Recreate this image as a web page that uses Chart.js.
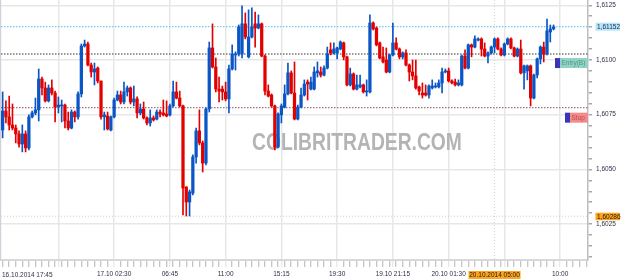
<!DOCTYPE html>
<html><head><meta charset="utf-8">
<script src="https://cdn.jsdelivr.net/npm/chart.js@4.4.1/dist/chart.umd.min.js"></script>
<style>html,body{margin:0;padding:0;background:#fff;overflow:hidden}#wrap{width:625px;height:280px;position:relative}</style>
</head><body><div id="wrap"><canvas id="c" width="625" height="280"></canvas></div>
<script>
// M15 candles (bar 0 = 16.10.2014 17:45)
const opens = [
1.60680,1.60767,1.60740,1.60703,1.60689,1.60662,1.60616,1.60662,1.60598,1.60740,
1.60758,1.60772,1.60913,1.60872,1.60813,1.60872,1.60849,1.60785,1.60790,1.60794,
1.60721,1.60689,1.60762,1.60740,1.60845,1.61064,1.61073,1.60977,1.60945,1.60963,
1.60904,1.60740,1.60744,1.60680,1.60740,1.60817,1.60840,1.60808,1.60854,1.60872,
1.60808,1.60822,1.60758,1.60776,1.60735,1.60712,1.60735,1.60730,1.60762,1.60758,
1.60753,1.60749,1.60790,1.60854,1.60826,1.60790,1.60420,1.60351,1.60392,1.60557,
1.60676,1.60621,1.60529,1.60776,1.61055,1.60968,1.60867,1.60867,1.60854,1.60822,
1.60959,1.61023,1.61027,1.61027,1.61165,1.61014,1.61105,1.61165,1.61146,1.61165,
1.61018,1.60858,1.60840,1.60790,1.60602,1.60749,1.60785,1.60845,1.60941,1.60849,
1.60730,1.60785,1.60840,1.60899,1.60867,1.60867,1.60941,1.60945,1.60931,1.60963,
1.61046,1.61032,1.61032,1.61050,1.61078,1.61014,1.60886,1.60936,1.60867,1.60877,
1.60886,1.60854,1.60854,1.61169,1.61146,1.61078,1.61014,1.61000,1.60945,1.61023,
1.61078,1.61050,1.61014,1.61032,1.60977,1.60945,1.60927,1.60877,1.60849,1.60849,
1.60840,1.60872,1.60877,1.60877,1.60895,1.60945,1.60950,1.60904,1.60899,1.60886,
1.60886,1.61018,1.60963,1.61069,1.61059,1.61091,1.61096,1.61050,1.61018,1.61032,
1.61059,1.61096,1.61050,1.61023,1.61073,1.61096,1.61055,1.61018,1.61050,1.60941,
1.60950,1.60973,1.60826,1.60931,1.61005,1.61059,1.61027,1.61128,1.61142];
const highs = [
1.60854,1.60813,1.60835,1.60799,1.60703,1.60676,1.60703,1.60676,1.60749,1.60767,
1.60826,1.60959,1.60922,1.60899,1.60886,1.60909,1.60858,1.60831,1.60817,1.60799,
1.60762,1.60772,1.60767,1.60854,1.61073,1.61091,1.61082,1.60986,1.60986,1.60968,
1.60904,1.60762,1.60762,1.60744,1.60826,1.60858,1.60858,1.60899,1.60881,1.60877,
1.60881,1.60831,1.60799,1.60808,1.60740,1.60772,1.60744,1.60772,1.60772,1.60817,
1.60813,1.60799,1.60904,1.60899,1.60858,1.60794,1.60420,1.60406,1.60566,1.60689,
1.60772,1.60630,1.60781,1.61082,1.61165,1.61009,1.60922,1.60881,1.60899,1.60977,
1.61069,1.61037,1.61160,1.61247,1.61215,1.61229,1.61238,1.61219,1.61206,1.61169,
1.61023,1.60886,1.60845,1.60794,1.60758,1.60799,1.60886,1.60986,1.60950,1.60991,
1.60794,1.60872,1.60909,1.60909,1.60922,1.60968,1.60991,1.60968,1.60973,1.61059,
1.61078,1.61078,1.61059,1.61087,1.61082,1.61018,1.60963,1.60941,1.60931,1.60931,
1.60890,1.60909,1.61206,1.61174,1.61151,1.61082,1.61059,1.61055,1.61027,1.61169,
1.61101,1.61055,1.61037,1.61046,1.60982,1.61000,1.61000,1.60881,1.60895,1.60886,
1.60886,1.60909,1.60895,1.60909,1.60963,1.60959,1.60963,1.60909,1.60913,1.60909,
1.61023,1.61046,1.61073,1.61073,1.61110,1.61101,1.61101,1.61078,1.61037,1.61064,
1.61101,1.61101,1.61055,1.61078,1.61101,1.61101,1.61059,1.61055,1.61091,1.60977,
1.60977,1.60977,1.60936,1.61009,1.61064,1.61082,1.61187,1.61160,1.61160];
const lows = [
1.60644,1.60712,1.60680,1.60680,1.60621,1.60602,1.60580,1.60580,1.60589,1.60735,
1.60749,1.60721,1.60840,1.60808,1.60808,1.60840,1.60717,1.60758,1.60717,1.60689,
1.60680,1.60685,1.60717,1.60730,1.60831,1.61059,1.60973,1.60922,1.60886,1.60895,
1.60730,1.60680,1.60680,1.60676,1.60735,1.60813,1.60799,1.60799,1.60835,1.60799,
1.60790,1.60735,1.60749,1.60730,1.60703,1.60698,1.60721,1.60726,1.60740,1.60744,
1.60740,1.60744,1.60785,1.60822,1.60785,1.60292,1.60287,1.60287,1.60383,1.60529,
1.60612,1.60488,1.60520,1.60762,1.60963,1.60854,1.60808,1.60817,1.60813,1.60758,
1.60954,1.60954,1.61018,1.61009,1.61096,1.61009,1.61101,1.61059,1.61142,1.61014,
1.60840,1.60831,1.60785,1.60589,1.60598,1.60712,1.60781,1.60840,1.60845,1.60726,
1.60726,1.60781,1.60835,1.60817,1.60863,1.60863,1.60922,1.60922,1.60927,1.60959,
1.61023,1.61027,1.61005,1.61046,1.61000,1.60881,1.60881,1.60863,1.60863,1.60872,
1.60849,1.60835,1.60849,1.61137,1.61064,1.61005,1.60986,1.60941,1.60941,1.61018,
1.61046,1.61005,1.61005,1.60973,1.60904,1.60909,1.60867,1.60840,1.60826,1.60835,
1.60826,1.60867,1.60872,1.60872,1.60849,1.60941,1.60899,1.60890,1.60881,1.60881,
1.60881,1.60959,1.60959,1.61014,1.61055,1.61087,1.61018,1.61014,1.60986,1.61027,
1.61032,1.61046,1.61018,1.61018,1.61069,1.61050,1.61014,1.61014,1.60936,1.60867,
1.60909,1.60790,1.60822,1.60918,1.60982,1.60991,1.61023,1.61082,1.61137];
const closes = [
1.60767,1.60740,1.60703,1.60689,1.60662,1.60616,1.60662,1.60598,1.60740,1.60758,
1.60772,1.60913,1.60872,1.60813,1.60872,1.60849,1.60785,1.60794,1.60794,1.60721,
1.60689,1.60762,1.60740,1.60845,1.61064,1.61073,1.60977,1.60945,1.60959,1.60904,
1.60740,1.60749,1.60685,1.60740,1.60817,1.60840,1.60808,1.60854,1.60872,1.60808,
1.60822,1.60758,1.60776,1.60735,1.60712,1.60735,1.60726,1.60762,1.60753,1.60749,
1.60744,1.60790,1.60854,1.60826,1.60790,1.60415,1.60351,1.60397,1.60557,1.60676,
1.60621,1.60529,1.60776,1.61055,1.60968,1.60867,1.60858,1.60854,1.60822,1.60959,
1.61027,1.61027,1.61151,1.61165,1.61105,1.61105,1.61151,1.61146,1.61165,1.61018,
1.60858,1.60835,1.60790,1.60602,1.60753,1.60790,1.60845,1.60941,1.60849,1.60730,
1.60785,1.60840,1.60890,1.60890,1.60899,1.60945,1.60950,1.60931,1.60963,1.61027,
1.61032,1.61050,1.61055,1.61082,1.61014,1.60886,1.60936,1.60867,1.60886,1.60886,
1.60854,1.60858,1.61169,1.61142,1.61069,1.61009,1.60991,1.60945,1.61023,1.61078,
1.61050,1.61014,1.61032,1.60977,1.60945,1.60927,1.60872,1.60858,1.60840,1.60840,
1.60881,1.60881,1.60881,1.60895,1.60945,1.60950,1.60904,1.60895,1.60886,1.60895,
1.61018,1.60963,1.61069,1.61059,1.61096,1.61096,1.61050,1.61018,1.61032,1.61059,
1.61096,1.61050,1.61023,1.61073,1.61096,1.61055,1.61018,1.61050,1.60941,1.60973,
1.60973,1.60826,1.60931,1.61005,1.61059,1.61027,1.61133,1.61142,1.61151];

const slotCount = 179;            // bar slots on the time axis (incl. empty right margin)
const gridEvery = 17;             // bars between vertical grid lines
const xTickBars = [0, 34, 51, 68, 85, 102, 119, 136, 170];
const xTickText = ['16.10.2014 17:45', '17.10 02:30', '06:45', '11:00', '15:15', '19:30', '19.10 21:15', '20.10 01:30', '10:00'];
const yMajorTicks = [1.6025, 1.6050, 1.6075, 1.6100, 1.6125];
const yMinorStep = 0.0005;
const yMin = 1.60086, yMax = 1.61274;

const currentPrice = 1.61152;
const entryPrice = 1.61027;
const stopPrice = 1.60782;
const crossPrice = 1.60286;
const crossBar = 150;
const crossTime = '20.10.2014 05:00';
const watermark = 'COLIBRITRADER.COM';

const UP = '#0a56c6', DOWN = '#e30000';
const FONT = 'Liberation Sans';

const slots = Array.from({length: slotCount}, (_, i) => String(i));
const bodies = opens.map((o, i) => [o, closes[i]]);
const wicks = lows.map((l, i) => [Math.min(l, opens[i], closes[i]), Math.max(highs[i], opens[i], closes[i])]);
const colorOf = c => (closes[c.dataIndex] >= opens[c.dataIndex] ? UP : DOWN);
const fmt = v => v.toFixed(4).replace('.', ',');
const fmt5 = v => v.toFixed(5).replace('.', ',');
const isMajorY = v => yMajorTicks.some(m => Math.abs(m - v) < 1e-7);

function hline(ctx, a, py, color, dash, w) {
  ctx.save(); ctx.strokeStyle = color; ctx.lineWidth = w; ctx.setLineDash(dash);
  ctx.beginPath(); ctx.moveTo(a.left, py); ctx.lineTo(a.right, py); ctx.stroke(); ctx.restore();
}
function box(ctx, x0, y0, w, h, bg, text, tc, align) {
  ctx.save(); ctx.fillStyle = bg; ctx.fillRect(x0, y0, w, h);
  ctx.font = '6.5px "' + FONT + '"'; ctx.fillStyle = tc; ctx.textBaseline = 'middle';
  ctx.textAlign = align || 'left';
  ctx.fillText(text, align === 'center' ? x0 + w / 2 : x0 + 1.5, y0 + h / 2 + 0.5); ctx.restore();
}

const overlay = {
  id: 'overlay',
  beforeDatasetsDraw(chart) {
    const {ctx, chartArea: a, scales: {x, y}} = chart;
    ctx.save();
    ctx.fillStyle = '#d0d0dc'; ctx.fillRect(0, 0, 1.2, a.bottom);
    // watermark, horizontally condensed
    ctx.font = 'bold 23.5px "Liberation Sans", sans-serif';
    ctx.fillStyle = '#b4b4b4'; ctx.textAlign = 'center'; ctx.textBaseline = 'alphabetic';
    ctx.translate(357, 150); ctx.scale(0.82, 1);
    ctx.fillText(watermark, 0, 0);
    ctx.restore();
    // crosshair
    hline(ctx, a, y.getPixelForValue(crossPrice), '#cdcdcd', [1, 2], 1);
    const cx = x.getPixelForValue(crossBar);
    ctx.save(); ctx.strokeStyle = '#d2d2d2'; ctx.setLineDash([1, 2]); ctx.lineWidth = 1;
    ctx.beginPath(); ctx.moveTo(cx, a.top); ctx.lineTo(cx, a.bottom + 7); ctx.stroke(); ctx.restore();
    // price levels
    hline(ctx, a, y.getPixelForValue(currentPrice), '#6fcbef', [1.5, 1.5], 1.2);
    hline(ctx, a, y.getPixelForValue(entryPrice), '#777777', [1.5, 1.5], 1.5);
    hline(ctx, a, y.getPixelForValue(stopPrice), '#a27080', [1.5, 1.5], 1.2);
  },
  afterDraw(chart) {
    const {ctx, chartArea: a, scales: {x, y}} = chart;
    // first time label, left aligned at the start of the axis
    ctx.save();
    ctx.font = '6.5px "' + FONT + '"'; ctx.fillStyle = '#2e2e48'; ctx.textBaseline = 'middle'; ctx.textAlign = 'left';
    ctx.fillText(xTickText[0], a.left + 1, 275.5);
    ctx.restore();
    // right-axis price boxes
    const py = y.getPixelForValue(currentPrice);
    box(ctx, a.right + 7.5, py - 4, 24.5, 8, '#b7e6fb', fmt5(currentPrice), '#1c2a48');
    const pc = y.getPixelForValue(crossPrice);
    box(ctx, a.right + 7.5, pc - 3.5, 24.5, 7.5, '#ffa41c', fmt5(crossPrice), '#1a1a1a');
    // entry / stop tags
    const pe = y.getPixelForValue(entryPrice);
    ctx.save(); ctx.fillStyle = '#3a35b8'; ctx.fillRect(a.right - 33, pe + 4, 5, 10); ctx.restore();
    box(ctx, a.right - 28, pe + 4, 28, 10, '#8fd3c5', 'Entry(B)', '#5b9488');
    const ps = y.getPixelForValue(stopPrice);
    ctx.save(); ctx.fillStyle = '#3a35b8'; ctx.fillRect(a.right - 23, ps + 5, 5, 10); ctx.restore();
    box(ctx, a.right - 18, ps + 5, 18, 10, '#f28c8c', 'Stop', '#c44848');
    // crosshair time box
    const cx = x.getPixelForValue(crossBar);
    box(ctx, cx - 26, 271, 52, 8, '#ffa41c', crossTime, '#1a1a1a', 'center');
  }
};

new Chart(document.getElementById('c'), {
  type: 'bar',
  data: {
    labels: slots,
    datasets: [
      { data: wicks, backgroundColor: colorOf, barThickness: 1, grouped: false, order: 2 },
      { data: bodies, backgroundColor: colorOf, barThickness: 2.6, grouped: false, minBarLength: 1, order: 1 }
    ]
  },
  options: {
    animation: false, responsive: false, maintainAspectRatio: false,
    layout: { padding: { left: 1, right: 0, top: 0, bottom: 0 } },
    plugins: { legend: { display: false }, tooltip: { enabled: false } },
    scales: {
      x: {
        type: 'category', offset: true,
        afterFit: s => { s.height = 20; s.paddingLeft = 0; s.paddingRight = 0; },
        grid: {
          offset: false, drawOnChartArea: true, tickLength: 7, lineWidth: 1.5, tickWidth: 1,
          color: c => (c.index > 0 && c.index % gridEvery === 0) ? '#e7e7e7' : 'rgba(0,0,0,0)',
          tickColor: c => (c.index > 0 && c.index % gridEvery === 0) ? '#e2e2e2' : (c.index % 2 === 0 ? '#b4b4b4' : 'rgba(0,0,0,0)')
        },
        border: { color: '#d8d8d8', width: 2 },
        ticks: {
          autoSkip: false, maxRotation: 0, minRotation: 0, padding: 3,
          color: '#2e2e48', font: { family: FONT, size: 6.5 },
          callback: (v, i) => { const k = xTickBars.indexOf(i); return (k > 0) ? xTickText[k] : ''; }
        }
      },
      y: {
        position: 'right', min: yMin, max: yMax,
        afterFit: s => { s.width = 37; s.paddingTop = 0; s.paddingBottom = 0; },
        afterBuildTicks: s => {
          const t = [];
          for (let v = 1.6010; v <= yMax; v += yMinorStep) t.push({ value: Math.round(v * 1e5) / 1e5 });
          s.ticks = t;
        },
        grid: {
          drawOnChartArea: true, tickLength: 4, lineWidth: 1.5,
          color: c => isMajorY(c.tick.value) ? '#e7e7e7' : 'rgba(0,0,0,0)',
          tickColor: '#a8a8a8'
        },
        border: { color: '#bdbdbd', width: 1.5 },
        ticks: {
          autoSkip: false, padding: 4, color: '#2e2e48', font: { family: FONT, size: 6.5 },
          callback: v => isMajorY(v) ? fmt(v) : ''
        }
      }
    }
  },
  plugins: [overlay]
});
</script>
</body></html>
